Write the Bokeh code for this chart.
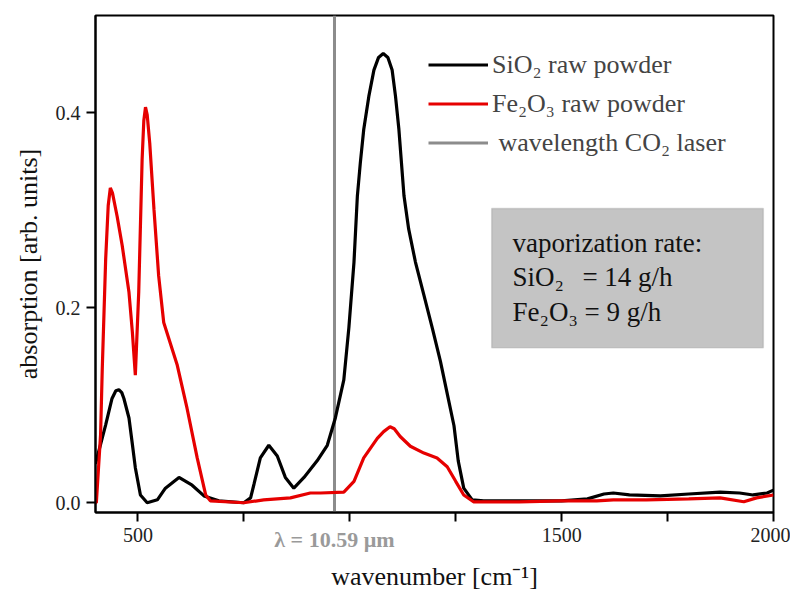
from bokeh.plotting import figure
from bokeh.models import (Legend, LegendItem, Label, BoxAnnotation, LinearAxis,
                          FixedTicker, PrintfTickFormatter)
from bokeh.embed import file_html
from bokeh.resources import INLINE

# ---- data ----
sio2_wn = [400, 424, 439, 448, 455, 462, 467, 479, 487, 494, 506, 522, 546, 565,
           597, 628, 656, 691, 750, 766, 774, 789, 809, 829, 848, 868, 892, 923,
           947, 966, 986, 998, 1010, 1018, 1025, 1033, 1045, 1057, 1068, 1079,
           1090, 1100, 1108, 1116, 1128, 1139, 1155, 1175, 1195, 1214, 1230, 1246,
           1256, 1269, 1289, 1316, 1400, 1500, 1561, 1600, 1622, 1660, 1733, 1800,
           1874, 1920, 1952, 1985, 2000]
sio2_abs = [0.040, 0.080, 0.107, 0.115, 0.116, 0.113, 0.107, 0.087, 0.060, 0.036,
            0.008, 0.000, 0.003, 0.015, 0.026, 0.018, 0.007, 0.002, 0.000, 0.005,
            0.019, 0.046, 0.059, 0.048, 0.026, 0.015, 0.026, 0.043, 0.059, 0.087,
            0.126, 0.180, 0.247, 0.315, 0.349, 0.383, 0.417, 0.444, 0.457, 0.461,
            0.457, 0.444, 0.417, 0.383, 0.315, 0.281, 0.247, 0.213, 0.179, 0.145,
            0.112, 0.079, 0.043, 0.015, 0.003, 0.002, 0.002, 0.002, 0.004, 0.009,
            0.010, 0.008, 0.007, 0.009, 0.011, 0.010, 0.008, 0.010, 0.013]

fe2o3_wn = [400, 402, 412, 416, 424, 430, 435, 440, 451, 463, 479, 487, 494, 502,
            510, 514, 518, 522, 528, 538, 549, 561, 593, 616, 640, 660, 671, 750,
            797, 860, 907, 931, 986, 1010, 1033, 1065, 1080, 1095, 1105, 1119, 1143,
            1175, 1206, 1230, 1250, 1269, 1292, 1331, 1400, 1500, 1583, 1622, 1700,
            1800, 1874, 1930, 1960, 2000]
fe2o3_abs = [0.000, 0.000, 0.070, 0.138, 0.250, 0.305, 0.323, 0.318, 0.294, 0.264,
             0.216, 0.175, 0.131, 0.216, 0.352, 0.392, 0.406, 0.398, 0.369, 0.301,
             0.233, 0.185, 0.141, 0.097, 0.046, 0.008, 0.002, 0.000, 0.003, 0.005,
             0.010, 0.010, 0.011, 0.022, 0.046, 0.066, 0.073, 0.078, 0.076, 0.068,
             0.058, 0.051, 0.046, 0.037, 0.022, 0.008, 0.001, 0.001, 0.001, 0.002,
             0.002, 0.003, 0.003, 0.004, 0.005, 0.001, 0.005, 0.008]

laser_wn = 964
x_lim = (400, 2000)
y_lim = (-0.01, 0.5)
x_major = [500, 1000, 1500, 2000]
x_minor = [750, 1250, 1750]
y_major = [0.0, 0.2, 0.4]

legend_labels = ["SiO\u2082 raw powder", "Fe\u2082O\u2083 raw powder",
                 " wavelength CO\u2082 laser"]
box_lines = ["vaporization rate:", "SiO\u2082", "= 14 g/h", "Fe\u2082O\u2083 = 9 g/h"]
laser_label = "\u03bb = 10.59 \u00b5m"

SERIF = "Liberation Serif"

p = figure(width=790, height=593, x_range=x_lim, y_range=y_lim,
           output_backend="svg", toolbar_location=None,
           min_border_left=95, min_border_right=17, min_border_top=15,
           min_border_bottom=78)
p.xgrid.visible = False
p.ygrid.visible = False
p.outline_line_color = "black"
p.outline_line_width = 2
p.outline_line_alpha = 1

# axes
p.xaxis.ticker = FixedTicker(ticks=x_major, minor_ticks=x_minor)
p.xaxis.major_label_overrides = {1000: ""}
p.yaxis.ticker = FixedTicker(ticks=y_major, minor_ticks=[])
p.yaxis.formatter = PrintfTickFormatter(format="%.1f")
for ax in (p.xaxis, p.yaxis):
    ax.axis_line_width = 2
    ax.axis_line_color = "black"
    ax.major_tick_line_width = 2
    ax.minor_tick_line_width = 2
    ax.major_tick_in = 0
    ax.major_tick_out = 9
    ax.minor_tick_in = 0
    ax.minor_tick_out = 9
    ax.major_label_text_font = SERIF
    ax.major_label_text_font_size = "20px"
    ax.major_label_text_color = "#222222"
    ax.axis_label_text_font = SERIF
    ax.axis_label_text_font_size = "26px"
    ax.axis_label_text_font_style = "normal"
    ax.axis_label_text_color = "#111111"
    ax.major_label_standoff = 6
p.yaxis.axis_label = "absorption [arb. units]"
p.yaxis.axis_label_standoff = 10

# outer x axis carrying the laser wavelength label and the axis title
outer = LinearAxis(ticker=FixedTicker(ticks=[laser_wn], minor_ticks=[]),
                   major_label_overrides={laser_wn: laser_label},
                   axis_line_color=None, major_tick_line_color=None,
                   minor_tick_line_color=None, major_label_standoff=-24,
                   major_label_text_font=SERIF, major_label_text_font_size="22px",
                   major_label_text_font_style="bold",
                   major_label_text_color="#9a9a9a",
                   axis_label="wavenumber [cm\u207b\u00b9]",
                   axis_label_text_font=SERIF, axis_label_text_font_size="26px",
                   axis_label_text_font_style="normal",
                   axis_label_text_color="#111111", axis_label_standoff=7)
p.add_layout(outer, "below")

# curves
r_laser = p.line([laser_wn, laser_wn], list(y_lim), line_color="#8c8c8c",
                 line_width=3)
r_si = p.line(sio2_wn, sio2_abs, line_color="black", line_width=3.2)
r_fe = p.line(fe2o3_wn, fe2o3_abs, line_color="#e60000", line_width=3.2)

legend = Legend(items=[LegendItem(label=legend_labels[0], renderers=[r_si]),
                       LegendItem(label=legend_labels[1], renderers=[r_fe]),
                       LegendItem(label=legend_labels[2], renderers=[r_laser])],
                location=(333, 350), border_line_alpha=0, background_fill_alpha=0,
                padding=0, margin=0, spacing=0, glyph_width=60, glyph_height=39,
                label_standoff=4, label_text_font=SERIF,
                label_text_font_size="26px", label_height=39)
p.add_layout(legend, "center")

# info box
box = BoxAnnotation(left=1335, right=1976, bottom=0.159, top=0.302,
                    fill_color="#c4c4c4", fill_alpha=1, line_color="#8a8a8a",
                    line_width=1.5)
p.add_layout(box)
lab_kw = dict(text_font=SERIF, text_font_size="27px", text_baseline="middle",
              text_color="#111111")
p.add_layout(Label(x=1384, y=0.267, text=box_lines[0], **lab_kw))
p.add_layout(Label(x=1384, y=0.232, text=box_lines[1], **lab_kw))
p.add_layout(Label(x=1549, y=0.232, text=box_lines[2], **lab_kw))
p.add_layout(Label(x=1384, y=0.196, text=box_lines[3], **lab_kw))

open("out.html", "w").write(file_html(p, INLINE))
